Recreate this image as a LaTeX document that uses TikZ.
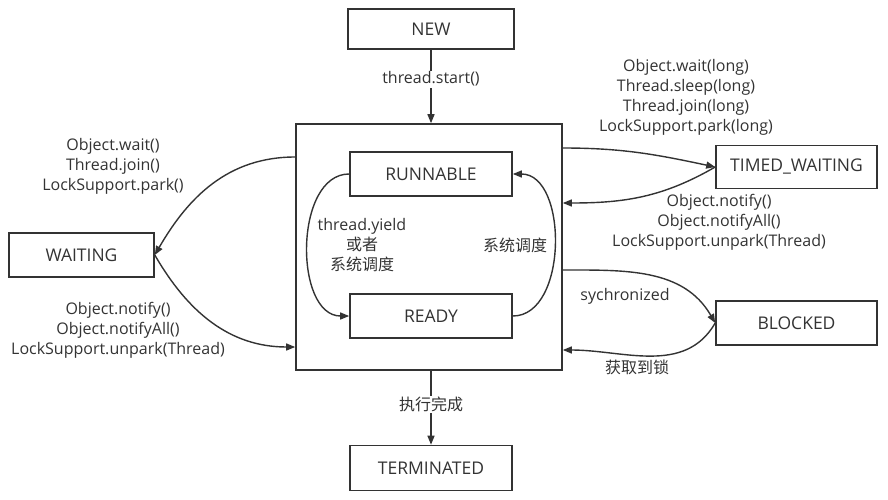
\documentclass[tikz,border=0pt]{standalone}
\usepackage{fontspec}
\setmainfont{Open Sans}
\newfontfamily\cjk{Noto Sans CJK SC}
\usetikzlibrary{arrows.meta,calc}
\definecolor{ink}{RGB}{51,51,51}
\begin{document}
\begin{tikzpicture}[x=1pt,y=1pt,
  every node/.style={text=ink,font=\fontsize{16}{20}\selectfont},
  state/.style={draw=ink,line width=1.6pt,inner sep=0pt,minimum width=162pt,minimum height=44pt,font=\fontsize{17.5}{20}\selectfont},
  lab/.style={align=center,inner sep=1pt},
  conn/.style={draw=ink,line width=1.4pt,-{Triangle[length=9pt,width=7pt]}}]
\useasboundingbox (0,0) rectangle (888,499);
\node[state,minimum width=166pt,minimum height=40pt] (new) at (431,470) {NEW};
\node[state,minimum width=266pt,minimum height=246pt] (big) at (429,252) {};
\node[state] (run) at (431,325) {RUNNABLE};
\node[state] (ready) at (431,183) {READY};
\node[state,minimum width=161pt,minimum height=43pt] (tw) at (796.5,332) {TIMED\_WAITING};
\node[state,minimum width=145pt] (wait) at (81.5,244) {WAITING};
\node[state,minimum width=161pt] (blk) at (796.5,176) {BLOCKED};
\node[state,minimum height=45pt] (term) at (431,31) {TERMINATED};
% edge coordinates on the big box
\coordinate (bl1) at (big.west |- 0,342);
\coordinate (bl2) at (big.west |- 0,152);
\coordinate (br1) at (big.east |- 0,351);
\coordinate (br2) at (big.east |- 0,296);
\coordinate (br3) at (big.east |- 0,229);
\coordinate (br4) at (big.east |- 0,149);
% connectors
\draw[conn] (new.south) -- node[lab,fill=white,pos=0.4] {thread.start()} (big.north -| new.south);
\draw[conn] (big.south -| term.north) -- node[lab,fill=white,pos=0.45] {\cjk 执行完成} (term.north);
\draw[conn] (bl1) to[out=180,in=60] (wait.east);
\draw[conn] (wait.east) to[out=-60,in=180] (bl2);
\draw[conn] (br1) to[out=0,in=168] (tw.west);
\draw[conn] (tw.west) to[out=-150,in=0] (br2);
\draw[conn] (br3) to[out=0,in=120] (blk.west);
\draw[conn] (blk.west) to[out=-120,in=0] (br4);
\draw[conn] (run.west) to[out=180,in=180] (ready.west);
\draw[conn] (ready.east) to[out=0,in=0] (run.east);
% labels
\node[lab] (l1) at (113,333) {Object.wait()\\Thread.join()\\LockSupport.park()};
\node[lab] (l2) at (118,169) {Object.notify()\\Object.notifyAll()\\LockSupport.unpark(Thread)};
\node[lab] (l3) at (686,402) {Object.wait(long)\\Thread.sleep(long)\\Thread.join(long)\\LockSupport.park(long)};
\node[lab] (l4) at (719,277) {Object.notify()\\Object.notifyAll()\\LockSupport.unpark(Thread)};
\node[lab] (l5) at (625,203) {sychronized};
\node[lab] (l6) at (637,132) {\cjk 获取到锁};
\node[lab] (l7) at (362,254) {thread.yield\\{\cjk 或者}\\{\cjk 系统调度}};
\node[lab] (l8) at (515,254) {\cjk 系统调度};
\end{tikzpicture}
\end{document}
